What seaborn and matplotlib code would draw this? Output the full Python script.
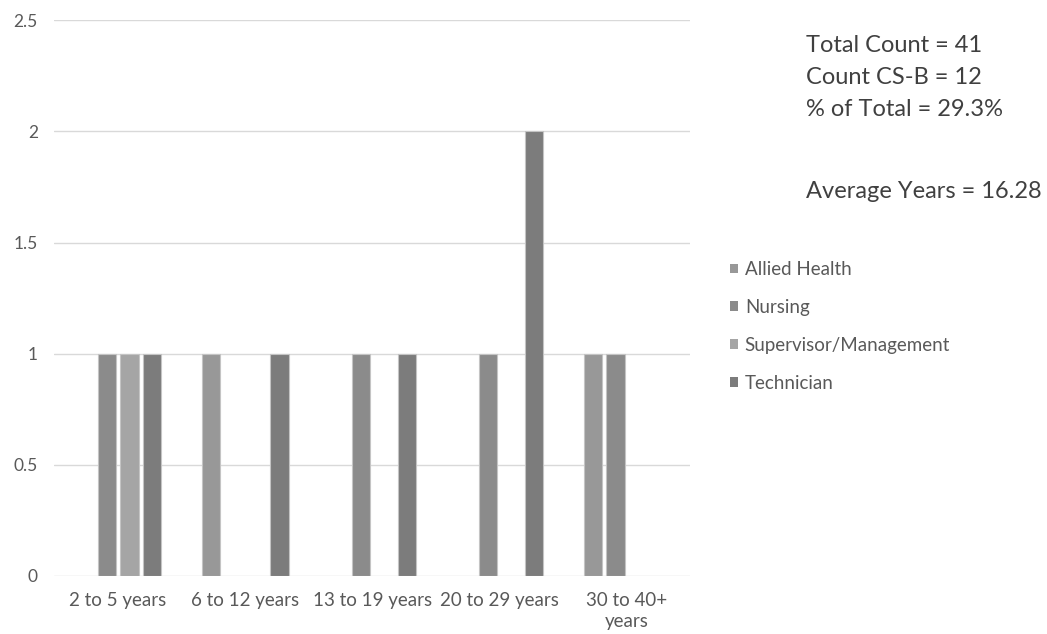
import matplotlib
matplotlib.use("Agg")
import matplotlib.pyplot as plt
from matplotlib.patches import Patch
import pandas as pd
import seaborn as sns

# Years-of-service buckets and job categories
categories = ["2 to 5 years", "6 to 12 years", "13 to 19 years", "20 to 29 years", "30 to 40+\nyears"]
roles = ["Allied Health", "Nursing", "Supervisor/Management", "Technician"]

# Counts per role for each bucket
allied_health = [0, 1, 0, 0, 1]
nursing = [1, 0, 1, 1, 1]
supervisor_management = [1, 0, 0, 0, 0]
technician = [1, 1, 1, 2, 0]

summary_lines = ["Total Count = 41", "Count CS-B = 12", "% of Total = 29.3%"]
average_line = "Average Years = 16.28"

colors = ["#989898", "#8b8b8b", "#a5a5a5", "#7c7c7c"]

rows = []
for role, vals in zip(roles, [allied_health, nursing, supervisor_management, technician]):
    for cat, v in zip(categories, vals):
        rows.append({"bucket": cat, "role": role, "count": v})
df = pd.DataFrame(rows)

sns.set_style("white")
plt.rcParams["font.family"] = ["Lato", "DejaVu Sans"]

fig = plt.figure(figsize=(10.47, 6.34), dpi=100)
ax = fig.add_axes([0.052, 0.0915, 0.6075, 0.8765])

sns.barplot(data=df, x="bucket", y="count", hue="role", order=categories,
            hue_order=roles, palette=colors, width=0.716, gap=0.2,
            edgecolor="#c4c4c4", linewidth=0.8, legend=False, ax=ax, zorder=3)

# Zero-height bars should not leave a visible edge line
for p in ax.patches:
    if p.get_height() == 0:
        p.set_visible(False)

ax.set_ylim(0, 2.5)
ax.set_xlim(-0.5, len(categories) - 0.5)
ax.set_yticks([0, 0.5, 1, 1.5, 2, 2.5])
ax.set_yticklabels(["0", "0.5", "1", "1.5", "2", "2.5"])
ax.yaxis.grid(True, color="#d9d9d9", linewidth=1.0, zorder=0)
ax.set_axisbelow(True)
for s in ax.spines.values():
    s.set_visible(False)
ax.tick_params(axis="both", length=0, labelcolor="#595959")
ax.tick_params(axis="y", pad=12, labelsize=12.5)
ax.tick_params(axis="x", pad=11.5, labelsize=13.5)
for lbl in ax.get_xticklabels():
    lbl.set_linespacing(1.3)
ax.set_xlabel("")
ax.set_ylabel("")

handles = [Patch(facecolor=c, edgecolor="none") for c in colors]
fig.legend(handles, roles, loc="upper left", bbox_to_anchor=(0.697, 0.588),
           frameon=False, fontsize=13.5, labelcolor="#595959",
           handlelength=0.43, handleheight=0.43, handletextpad=0.37,
           labelspacing=1.11, borderpad=0, borderaxespad=0)

for i, line in enumerate(summary_lines):
    fig.text(0.770, 0.929 - i * 0.051, line, fontsize=17, color="#404040",
             va="center", ha="left")
fig.text(0.770, 0.698, average_line, fontsize=17, color="#404040",
         va="center", ha="left")

fig.savefig("out.png", dpi=100)
